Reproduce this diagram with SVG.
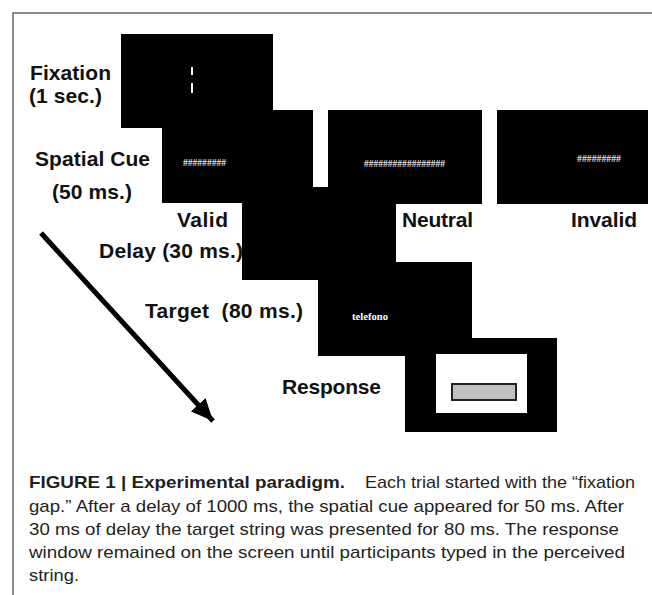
<svg xmlns="http://www.w3.org/2000/svg" width="652" height="595" viewBox="0 0 652 595">
<defs>
<style>
.scr{fill:#000;}
.lbl{font-family:"Liberation Sans",Arial,sans-serif;font-weight:bold;font-size:21px;fill:#111;}
.hash{font-family:"Liberation Serif","Times New Roman",serif;font-weight:bold;font-size:9.5px;fill:#e0e0e0;}
.cap{font-family:"Liberation Sans",Arial,sans-serif;font-size:17px;fill:#231f20;}
.capb{font-weight:bold;}
</style>
<marker id="ah" markerUnits="userSpaceOnUse" markerWidth="24" markerHeight="20" refX="22" refY="10" orient="auto">
<path d="M0,0 L22,10 L0,20 Z" fill="#000"/>
</marker>
</defs>
<rect width="652" height="595" fill="#fff"/>
<path d="M13,595 V13 H652" fill="none" stroke="#666" stroke-width="1.5"/>

<g id="fixation">
<rect class="scr" x="121" y="34" width="152" height="94"/>
<rect x="191" y="67" width="2" height="8" fill="#fff"/>
<rect x="191" y="83" width="2" height="10" fill="#fff"/>
<text class="lbl" x="30" y="80" textLength="81">Fixation</text>
<text class="lbl" x="29" y="103" textLength="73">(1 sec.)</text>
</g>

<g id="spatial-cue-valid">
<rect class="scr" x="162" y="110" width="151" height="93"/>
<text class="hash" x="183" y="166" textLength="43" lengthAdjust="spacingAndGlyphs">#########</text>
<text class="lbl" x="35" y="166" textLength="115">Spatial Cue</text>
<text class="lbl" x="52" y="199" textLength="80">(50 ms.)</text>
<text class="lbl" x="177" y="227" textLength="51">Valid</text>
</g>

<g id="spatial-cue-neutral">
<rect class="scr" x="328" y="110" width="154" height="94"/>
<text class="hash" x="364" y="167" textLength="81" lengthAdjust="spacingAndGlyphs">#################</text>
<text class="lbl" x="402" y="227" textLength="71">Neutral</text>
</g>

<g id="spatial-cue-invalid">
<rect class="scr" x="497" y="110" width="151" height="94"/>
<text class="hash" x="577" y="162" textLength="44" lengthAdjust="spacingAndGlyphs">#########</text>
<text class="lbl" x="571" y="227" textLength="66">Invalid</text>
</g>

<g id="delay">
<rect class="scr" x="242" y="187" width="154" height="93"/>
<text class="lbl" x="99" y="258" textLength="144">Delay (30 ms.)</text>
</g>

<g id="target">
<rect class="scr" x="318" y="262" width="154" height="94"/>
<text x="352" y="320" textLength="36" lengthAdjust="spacingAndGlyphs" style="font-family:'Liberation Serif','Times New Roman',serif;font-weight:bold;font-size:10.5px;fill:#fff;">telefono</text>
<text class="lbl" x="145" y="318" textLength="158" xml:space="preserve">Target  (80 ms.)</text>
</g>

<g id="response">
<rect class="scr" x="405" y="338" width="152" height="94"/>
<rect x="436" y="354" width="91" height="59" fill="#fff"/>
<rect x="452" y="384" width="64" height="16" fill="#c0c0c0" stroke="#222" stroke-width="2"/>
<text class="lbl" x="282" y="394" textLength="99">Response</text>
</g>

<g id="connectors">
<line x1="41" y1="233" x2="213" y2="421" stroke="#000" stroke-width="5" marker-end="url(#ah)"/>
</g>

<g id="caption">
<text class="cap" x="29" y="488"><tspan class="capb" textLength="316" lengthAdjust="spacingAndGlyphs">FIGURE 1 | Experimental paradigm.</tspan><tspan x="365" textLength="270" lengthAdjust="spacingAndGlyphs">Each trial started with the “fixation</tspan></text>
<text class="cap" x="29" y="512" textLength="595" lengthAdjust="spacingAndGlyphs">gap.” After a delay of 1000 ms, the spatial cue appeared for 50 ms. After</text>
<text class="cap" x="29" y="535" textLength="590" lengthAdjust="spacingAndGlyphs">30 ms of delay the target string was presented for 80 ms. The response</text>
<text class="cap" x="29" y="558" textLength="596" lengthAdjust="spacingAndGlyphs">window remained on the screen until participants typed in the perceived</text>
<text class="cap" x="29" y="581" textLength="50" lengthAdjust="spacingAndGlyphs">string.</text>
</g>
</svg>
